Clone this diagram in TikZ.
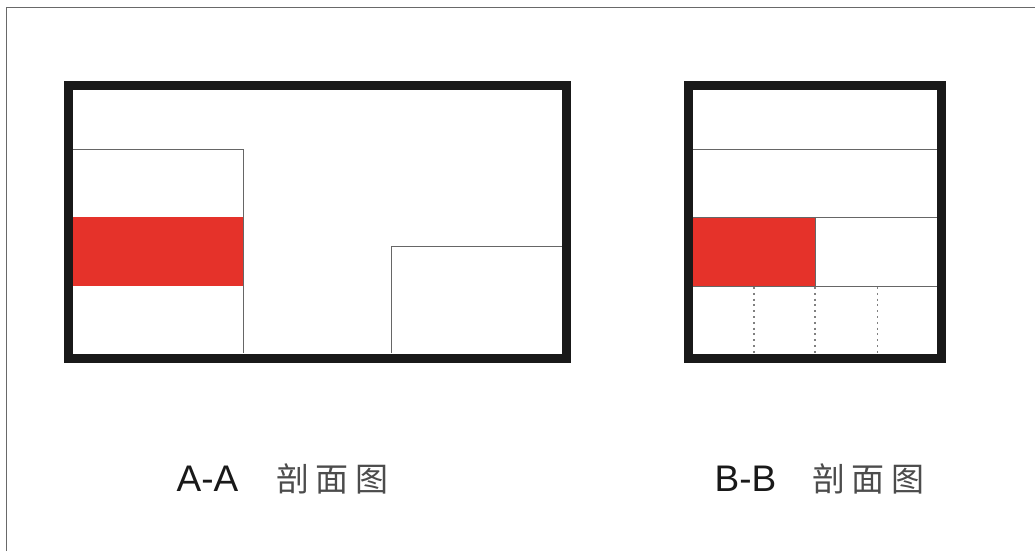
\documentclass[tikz,border=0pt]{standalone}
\usepackage{fontspec}
\setmainfont{Liberation Sans}
\newfontfamily\cjk{Noto Sans CJK SC}
\definecolor{cutred}{RGB}{229,50,42}
\definecolor{framegray}{RGB}{105,105,105}
\tikzset{
  wall/.style={line width=9pt, color=black!90, line join=miter},
  thin line/.style={line width=0.9pt, color=black!60},
  hidden line/.style={line width=1.1pt, color=black!50, dash pattern=on 2pt off 3.8pt},
  cut/.style={fill=cutred},
  latin/.style={font=\fontsize{37}{37}\selectfont, text=black!90, anchor=base west, inner sep=0pt},
  hanzi/.style={font=\cjk\fontsize{33}{33}\selectfont, text=black!70, anchor=base west, inner sep=0pt},
}
\begin{document}
\begin{tikzpicture}[x=1pt,y=-1pt]
\useasboundingbox (0,0) rectangle (1035,551);
\fill[white] (0,0) rectangle (1035,551);
\draw[framegray, line width=0.9pt] (6.5,551) -- (6.5,7.5) -- (1035,7.5);
% A-A
\fill[cut] (73,217) rectangle (243,286);
\draw[thin line] (73,149) -- (243,149) -- (243,353);
\draw[thin line] (391,353) -- (391,246.5) -- (562,246.5);
\draw[wall] (68.5,85.5) rectangle (566.5,358);
% B-B
\fill[cut] (693,217) rectangle (815,286);
\draw[thin line] (693,149) -- (937,149);
\draw[thin line] (693,217) -- (937,217);
\draw[thin line] (693,286) -- (937,286);
\draw[thin line] (815,217) -- (815,286);
\foreach \x in {754,815,877.5}
  \draw[hidden line] (\x,287) -- (\x,353);
\draw[wall] (688.5,85.5) rectangle (941.5,358);
% titles
\node[latin] at (176.5,491) (aa) {A-A};
\node[hanzi] at (276,491) (ah) {剖\hspace{6.5pt}面\hspace{6.5pt}图};
\node[latin] at (714.5,491) (bb) {B-B};
\node[hanzi] at (812,491) (bh) {剖\hspace{6.5pt}面\hspace{6.5pt}图};
\end{tikzpicture}
\end{document}
